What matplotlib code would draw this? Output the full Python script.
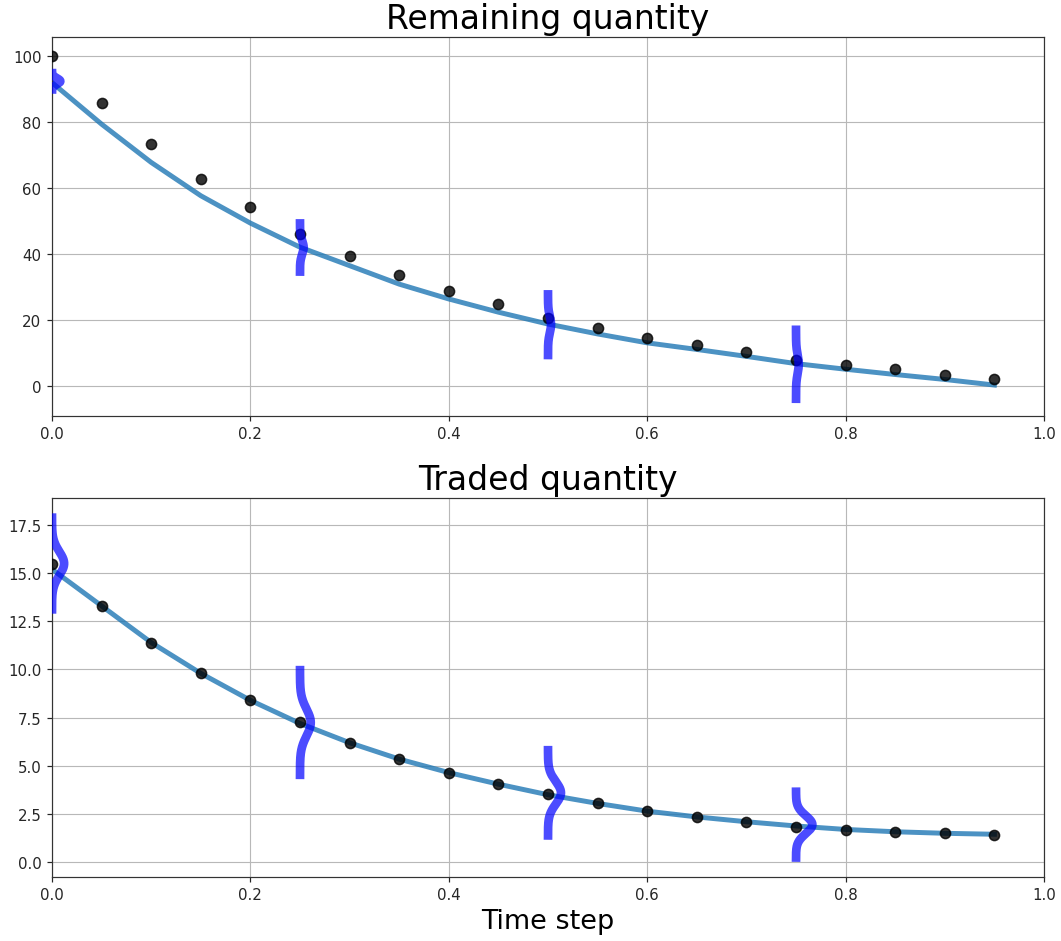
import numpy as np
import matplotlib
matplotlib.use("Agg")
import matplotlib.pyplot as plt

# time grid
time_steps = [0.0, 0.05, 0.1, 0.15, 0.2, 0.25, 0.3, 0.35, 0.4, 0.45,
              0.5, 0.55, 0.6, 0.65, 0.7, 0.75, 0.8, 0.85, 0.9, 0.95]

# remaining quantity: observed points and fitted curve
remaining_obs = [100.0, 85.8, 73.5, 62.8, 54.2, 46.0, 39.5, 33.8, 28.8, 24.8,
                 20.5, 17.5, 14.7, 12.5, 10.2, 8.0, 6.5, 5.1, 3.5, 2.0]
remaining_fit = [92.0, 79.4, 67.8, 57.7, 49.4, 42.1, 36.5, 30.9, 26.4, 22.4,
                 18.8, 15.8, 13.1, 11.1, 9.0, 6.8, 5.1, 3.5, 2.0, 0.3]

# traded quantity: observed points and fitted curve
traded_obs = [15.5, 13.3, 11.4, 9.8, 8.4, 7.26, 6.2, 5.35, 4.65, 4.04,
              3.54, 3.07, 2.64, 2.37, 2.11, 1.85, 1.69, 1.59, 1.52, 1.42]
traded_fit = [15.2, 13.3, 11.4, 9.8, 8.4, 7.2, 6.2, 5.35, 4.65, 4.05,
              3.5, 3.05, 2.65, 2.35, 2.1, 1.88, 1.7, 1.58, 1.5, 1.45]

# predictive distributions shown at a few time steps
dist_times = [0.0, 0.25, 0.5, 0.75]
remaining_dist_mean = [92.4, 42.0, 18.6, 6.6]
remaining_dist_std = [0.9, 2.05, 2.5, 2.8]
traded_dist_mean = [15.5, 7.25, 3.6, 1.95]
traded_dist_std = [0.62, 0.7, 0.58, 0.46]

dist_scale = 0.019


def draw_dists(ax, times, means, stds):
    for t, m, s in zip(times, means, stds):
        half = 4.2 * s
        y = np.linspace(m - half, m + half, 300)
        pdf = np.exp(-0.5 * ((y - m) / s) ** 2) / (s * np.sqrt(2 * np.pi))
        ax.plot(t + dist_scale * pdf, y, color="blue", alpha=0.7, lw=5.8,
                solid_capstyle="butt", zorder=4)


def panel(ax, obs, fit, means, stds, title, ylim):
    ax.plot(time_steps, fit, color="C0", alpha=0.8, lw=3.3, zorder=2)
    ax.plot(time_steps, obs, "o", color="black", alpha=0.8, ms=6.8, zorder=3)
    draw_dists(ax, dist_times, means, stds)
    ax.set_title(title, fontsize=22)
    ax.set_xlim(0, 1)
    ax.set_ylim(*ylim)
    ax.grid(True, color="#b8b8b8", lw=0.75)
    ax.set_axisbelow(True)
    ax.tick_params(labelsize=10, colors="#262626")
    for sp in ax.spines.values():
        sp.set_color("#333333")


fig = plt.figure(figsize=(1061 / 108, 942 / 108), dpi=108)
ax1 = fig.add_axes([0.049, 0.5576, 0.935, 0.402])
ax2 = fig.add_axes([0.049, 0.0683, 0.935, 0.402])

panel(ax1, remaining_obs, remaining_fit, remaining_dist_mean, remaining_dist_std,
      "Remaining quantity", (-9, 105.8))
panel(ax2, traded_obs, traded_fit, traded_dist_mean, traded_dist_std,
      "Traded quantity", (-0.75, 18.9))
ax1.set_yticks([0, 20, 40, 60, 80, 100])
ax2.set_yticks([0, 2.5, 5, 7.5, 10, 12.5, 15, 17.5])
ax2.set_xlabel("Time step", fontsize=18)

fig.savefig("out.png", dpi=108)
